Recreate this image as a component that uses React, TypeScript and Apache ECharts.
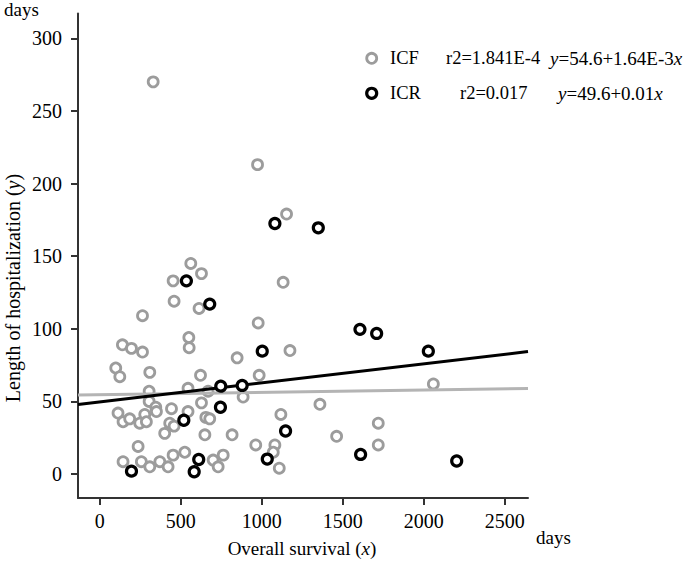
import React, { useEffect, useRef } from "react";
import * as echarts from "echarts";

// ICF group: [overall survival (days), length of hospitalization (days)]
const icfPoints: number[][] = [
  [330, 270], [974, 213], [1153, 179], [1132, 132], [562, 145], [628, 138],
  [453, 133], [459, 119], [613, 114], [264, 109], [978, 104], [550, 94],
  [552, 87], [140, 89], [196, 86.5], [264, 84], [1174, 85], [848, 80],
  [99, 73], [124, 67], [309, 70], [622, 68], [984, 68], [2059, 62],
  [305, 57], [545, 59], [669, 57], [885, 53], [1359, 48], [305, 50],
  [346, 46], [350, 43], [278, 41], [247, 35], [288, 36], [443, 45],
  [432, 35], [459, 33], [545, 43], [628, 49], [655, 39], [679, 38],
  [1118, 41], [113, 42], [144, 36], [185, 38], [401, 28], [649, 27],
  [817, 27], [1719, 35], [1462, 26], [237, 19], [963, 20], [1081, 20],
  [1071, 15], [1719, 20], [144, 8.5], [257, 8.5], [309, 5], [371, 8.5],
  [422, 5], [453, 13], [525, 15], [700, 9.6], [762, 13], [731, 5], [1108, 4],
];

// ICR group
const icrPoints: number[][] = [
  [535, 133], [679, 117], [1081, 172.5], [1349, 169.5], [1606, 99.6],
  [1709, 96.8], [1003, 84.6], [2028, 84.6], [879, 61], [747, 60.5],
  [745, 46], [519, 37], [1147, 29.6], [611, 10], [1034, 10.3],
  [1610, 13.5], [2203, 9], [196, 2], [583, 1.6],
];

// Fitted regression lines (end points across the axis range)
const icfFit: number[][] = [[-134, 54.4], [2643, 58.9]];
const icrFit: number[][] = [[-134, 47.9], [2643, 84.3]];

const xTicks = [0, 500, 1000, 1500, 2000, 2500];
const yTicks = [0, 50, 100, 150, 200, 250, 300];
const xRange = [-134, 2643];
const yRange = [-16.5, 317];

const legendRows = [
  { name: "ICF", r2: "r2=1.841E-4", eq: "{i|y}=54.6+1.64E-3{i|x}" },
  { name: "ICR", r2: "r2=0.017", eq: "{i|y}=49.6+0.01{i|x}" },
];

const FONT = "'Liberation Serif', 'Times New Roman', serif";
const GRAY = "#9c9c9c";
const GRAY_LINE = "#b4b4b4";

export default function App() {
  const ref = useRef<HTMLDivElement>(null);
  useEffect(() => {
    if (!ref.current) return;
    const chart = echarts.init(ref.current, undefined, { renderer: "svg" });
    const textStyle = { fontFamily: FONT, fontSize: 19, fill: "#000" };
    const legendText = { fontFamily: FONT, fontSize: 18.5, fill: "#000" };
    const italic = { i: { fontStyle: "italic", fontFamily: FONT, fontSize: 19 } };
    const rowY = [58.3, 93.3];
    const r2X = [446, 460];
    const eqX = [550, 558];
    const legendGraphics: any[] = [];
    legendRows.forEach((row, i) => {
      legendGraphics.push({
        type: "circle",
        shape: { cx: 371.7, cy: rowY[i], r: 5 },
        style: { fill: "#fff", stroke: i === 0 ? GRAY : "#000", lineWidth: i === 0 ? 2.8 : 3.2 },
      });
      legendGraphics.push({
        type: "text", x: 390, y: rowY[i],
        style: { ...legendText, text: row.name, verticalAlign: "middle" },
      });
      legendGraphics.push({
        type: "text", x: r2X[i], y: rowY[i],
        style: { ...legendText, text: row.r2, verticalAlign: "middle" },
      });
      legendGraphics.push({
        type: "text", x: eqX[i], y: rowY[i],
        style: { ...textStyle, text: row.eq, verticalAlign: "middle", rich: italic },
      });
    });

    chart.setOption({
      animation: false,
      backgroundColor: "#fff",
      textStyle: { fontFamily: FONT },
      grid: { left: 78, right: 157, top: 13.6, bottom: 66, containLabel: false },
      xAxis: {
        type: "value",
        min: xRange[0],
        max: xRange[1],
        splitLine: { show: false },
        axisLine: { show: true, onZero: false, lineStyle: { color: "#333", width: 2 } },
        axisTick: { show: true, length: 7, customValues: xTicks, lineStyle: { color: "#333", width: 2 } },
        axisLabel: {
          customValues: xTicks, color: "#000", fontFamily: FONT, fontSize: 20, margin: 13,
          formatter: (v: number) => String(v),
        },
      },
      yAxis: {
        type: "value",
        min: yRange[0],
        max: yRange[1],
        splitLine: { show: false },
        axisLine: { show: true, onZero: false, lineStyle: { color: "#333", width: 2 } },
        axisTick: { show: true, length: 7, customValues: yTicks, lineStyle: { color: "#333", width: 2 } },
        axisLabel: {
          customValues: yTicks, color: "#000", fontFamily: FONT, fontSize: 20, margin: 16,
          formatter: (v: number) => String(v),
        },
      },
      series: [
        {
          name: "ICF",
          type: "scatter",
          data: icfPoints,
          symbol: "circle",
          symbolSize: 10,
          itemStyle: { color: "#fff", borderColor: GRAY, borderWidth: 2.8, opacity: 1 },
          z: 2,
        },
        {
          name: "ICF fit",
          type: "line",
          data: icfFit,
          showSymbol: false,
          lineStyle: { color: GRAY_LINE, width: 3 },
          z: 3,
        },
        {
          name: "ICR fit",
          type: "line",
          data: icrFit,
          showSymbol: false,
          lineStyle: { color: "#000", width: 3 },
          z: 3,
        },
        {
          name: "ICR",
          type: "scatter",
          data: icrPoints,
          symbol: "circle",
          symbolSize: 10,
          itemStyle: { color: "#fff", borderColor: "#000", borderWidth: 3.2, opacity: 1 },
          z: 4,
        },
      ],
      graphic: [
        {
          type: "text", x: 4, y: 9,
          style: { ...textStyle, text: "days", verticalAlign: "middle" },
        },
        {
          type: "text", x: 536, y: 537,
          style: { ...textStyle, text: "days", verticalAlign: "middle" },
        },
        {
          type: "text", x: 302, y: 548,
          style: {
            ...textStyle, text: "Overall survival ({i|x})", align: "center", verticalAlign: "middle",
            rich: italic,
          },
        },
        {
          type: "text", x: 13, y: 288, rotation: Math.PI / 2,
          style: {
            ...textStyle, fontSize: 20, text: "Length of hospitalization ({i|y})", align: "center", verticalAlign: "middle",
            rich: { i: { fontStyle: "italic", fontFamily: FONT, fontSize: 20 } },
          },
        },
        ...legendGraphics,
      ],
    });
    return () => chart.dispose();
  }, []);
  return (
    <div
      ref={ref}
      style={{ position: "absolute", left: 0, top: 0, width: 685, height: 564 }}
    />
  );
}
